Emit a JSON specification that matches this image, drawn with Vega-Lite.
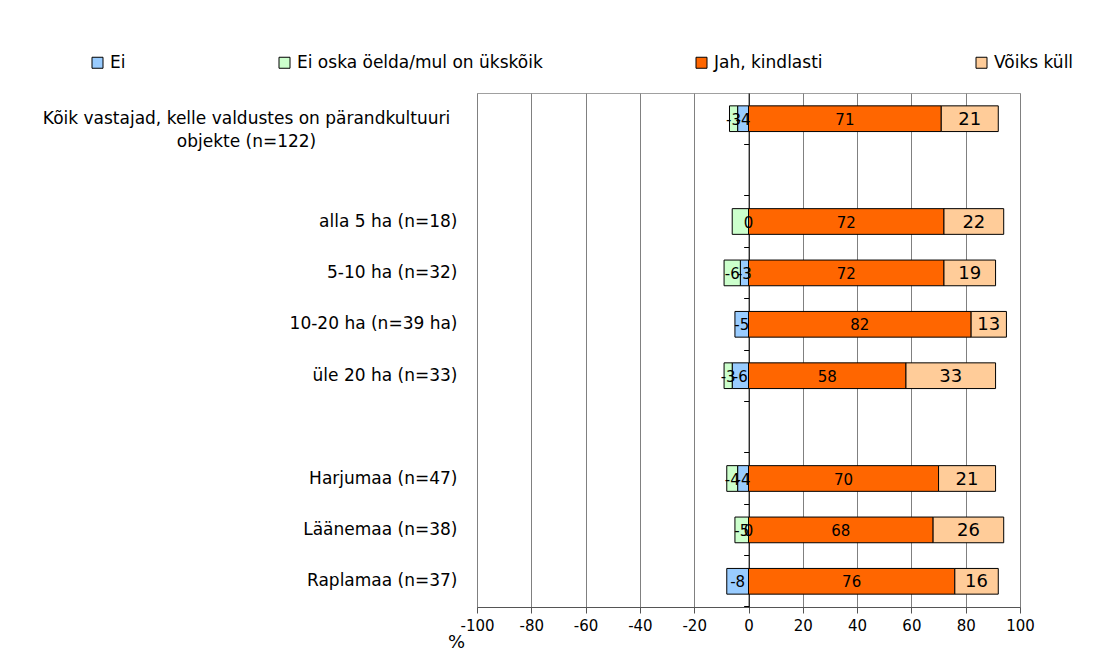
{
  "$schema": "https://vega.github.io/schema/vega-lite/v6.json",
  "width": 543,
  "height": 514,
  "autosize": "none",
  "padding": {"left": 477, "top": 93, "right": 81, "bottom": 50},
  "background": "white",
  "config": {
    "font": "DejaVu Sans",
    "view": {"stroke": "#A0A0A0", "strokeWidth": 1}
  },
  "data": {
    "values": [
      {"group": "Kõik vastajad, kelle valdustes on pärandkultuuri objekte (n=122)", "cat": "Ei", "value": -4, "label": "-4"},
      {"group": "Kõik vastajad, kelle valdustes on pärandkultuuri objekte (n=122)", "cat": "Ei oska öelda/mul on ükskõik", "value": -3, "label": "-3"},
      {"group": "Kõik vastajad, kelle valdustes on pärandkultuuri objekte (n=122)", "cat": "Jah, kindlasti", "value": 71, "label": "71"},
      {"group": "Kõik vastajad, kelle valdustes on pärandkultuuri objekte (n=122)", "cat": "Võiks küll", "value": 21, "label": "21"},
      {"group": "alla 5 ha (n=18)", "cat": "Ei", "value": 0, "label": "0"},
      {"group": "alla 5 ha (n=18)", "cat": "Ei oska öelda/mul on ükskõik", "value": -6, "label": ""},
      {"group": "alla 5 ha (n=18)", "cat": "Jah, kindlasti", "value": 72, "label": "72"},
      {"group": "alla 5 ha (n=18)", "cat": "Võiks küll", "value": 22, "label": "22"},
      {"group": "5-10 ha (n=32)", "cat": "Ei", "value": -3, "label": "-3"},
      {"group": "5-10 ha (n=32)", "cat": "Ei oska öelda/mul on ükskõik", "value": -6, "label": "-6"},
      {"group": "5-10 ha (n=32)", "cat": "Jah, kindlasti", "value": 72, "label": "72"},
      {"group": "5-10 ha (n=32)", "cat": "Võiks küll", "value": 19, "label": "19"},
      {"group": "10-20 ha (n=39 ha)", "cat": "Ei", "value": -5, "label": "-5"},
      {"group": "10-20 ha (n=39 ha)", "cat": "Ei oska öelda/mul on ükskõik", "value": 0, "label": ""},
      {"group": "10-20 ha (n=39 ha)", "cat": "Jah, kindlasti", "value": 82, "label": "82"},
      {"group": "10-20 ha (n=39 ha)", "cat": "Võiks küll", "value": 13, "label": "13"},
      {"group": "üle 20 ha (n=33)", "cat": "Ei", "value": -6, "label": "-6"},
      {"group": "üle 20 ha (n=33)", "cat": "Ei oska öelda/mul on ükskõik", "value": -3, "label": "-3"},
      {"group": "üle 20 ha (n=33)", "cat": "Jah, kindlasti", "value": 58, "label": "58"},
      {"group": "üle 20 ha (n=33)", "cat": "Võiks küll", "value": 33, "label": "33"},
      {"group": "Harjumaa (n=47)", "cat": "Ei", "value": -4, "label": "-4"},
      {"group": "Harjumaa (n=47)", "cat": "Ei oska öelda/mul on ükskõik", "value": -4, "label": "-4"},
      {"group": "Harjumaa (n=47)", "cat": "Jah, kindlasti", "value": 70, "label": "70"},
      {"group": "Harjumaa (n=47)", "cat": "Võiks küll", "value": 21, "label": "21"},
      {"group": "Läänemaa (n=38)", "cat": "Ei", "value": 0, "label": "0"},
      {"group": "Läänemaa (n=38)", "cat": "Ei oska öelda/mul on ükskõik", "value": -5, "label": "-5"},
      {"group": "Läänemaa (n=38)", "cat": "Jah, kindlasti", "value": 68, "label": "68"},
      {"group": "Läänemaa (n=38)", "cat": "Võiks küll", "value": 26, "label": "26"},
      {"group": "Raplamaa (n=37)", "cat": "Ei", "value": -8, "label": "-8"},
      {"group": "Raplamaa (n=37)", "cat": "Ei oska öelda/mul on ükskõik", "value": 0, "label": ""},
      {"group": "Raplamaa (n=37)", "cat": "Jah, kindlasti", "value": 76, "label": "76"},
      {"group": "Raplamaa (n=37)", "cat": "Võiks küll", "value": 16, "label": "16"}
    ]
  },
  "transform": [
    {"stack": "value", "groupby": ["group"], "sort": [{"field": "cat", "order": "ascending"}], "as": ["v0", "v1"], "offset": "zero"},
    {"calculate": "(datum.v0 + datum.v1) / 2", "as": "mid"}
  ],
  "resolve": {"axis": {"y": "independent"}},
  "layer": [
    {
      "mark": {"type": "bar", "stroke": "black", "strokeWidth": 1},
      "encoding": {
        "y": {
          "field": "group",
          "type": "nominal",
          "scale": {
            "domain": ["Kõik vastajad, kelle valdustes on pärandkultuuri objekte (n=122)", " ", "alla 5 ha (n=18)", "5-10 ha (n=32)", "10-20 ha (n=39 ha)", "üle 20 ha (n=33)", "  ", "Harjumaa (n=47)", "Läänemaa (n=38)", "Raplamaa (n=37)"],
            "paddingInner": 0.5,
            "paddingOuter": 0.25
          },
          "axis": {
            "orient": "left",
            "title": null,
            "domain": false,
            "ticks": false,
            "grid": false,
            "labelFontSize": 17,
            "labelColor": "black",
            "labelLimit": 0,
            "labelOverlap": false,
            "labelLineHeight": 23,
            "labelBaseline": "middle",
            "labelPadding": {"condition": {"test": "indexof(datum.value, 'Kõik') == 0", "value": 231}, "value": 20},
            "labelAlign": {"condition": {"test": "indexof(datum.value, 'Kõik') == 0", "value": "center"}, "value": "right"},
            "labelExpr": "indexof(datum.value, 'Kõik') == 0 ? ['Kõik vastajad, kelle valdustes on pärandkultuuri', 'objekte (n=122)'] : datum.value"
          }
        },
        "x": {
          "field": "v0",
          "type": "quantitative",
          "scale": {"domain": [-100, 100], "nice": false},
          "axis": {
            "values": [-100, -80, -60, -40, -20, 0, 20, 40, 60, 80, 100],
            "labelExpr": "'' + datum.value",
            "grid": true,
            "gridColor": "#808080",
            "gridWidth": 1,
            "domainColor": "#555555",
            "tickColor": "#555555",
            "tickSize": 6,
            "labelFontSize": 15,
            "labelColor": "black",
            "labelPadding": 5,
            "labelFlush": false,
            "labelOverlap": false,
            "title": "%",
            "titleFontSize": 18,
            "titleFontWeight": "normal",
            "titleColor": "black",
            "titleX": -21,
            "titleY": 40,
            "titleAlign": "center",
            "titleBaseline": "alphabetic",
            "titleAnchor": null
          }
        },
        "x2": {"field": "v1"},
        "color": {
          "field": "cat",
          "type": "nominal",
          "scale": {
            "domain": ["Ei", "Ei oska öelda/mul on ükskõik", "Jah, kindlasti", "Võiks küll"],
            "range": ["#99CCFF", "#CCFFCC", "#FF6600", "#FFCC99"]
          },
          "legend": {
            "orient": "none",
            "direction": "horizontal",
            "legendX": -388,
            "legendY": -39,
            "title": null,
            "padding": 0,
            "symbolType": "square",
            "symbolSize": 121,
            "symbolStrokeColor": "black",
            "symbolStrokeWidth": 1,
            "symbolOpacity": 1,
            "labelFontSize": 17,
            "labelColor": "black",
            "labelOffset": 4,
            "labelLimit": 0,
            "columnPadding": 150
          }
        }
      }
    },
    {
      "mark": {"type": "text", "baseline": "middle", "align": "center", "color": "black", "dy": 1},
      "encoding": {
        "y": {
          "field": "group",
          "type": "nominal",
          "axis": {
            "orient": "left",
            "offset": -271.65,
            "title": null,
            "labels": false,
            "grid": false,
            "domain": true,
            "domainColor": "black",
            "domainWidth": 1,
            "ticks": true,
            "tickColor": "black",
            "tickSize": 5,
            "bandPosition": 1.5
          }
        },
        "x": {"field": "mid", "type": "quantitative"},
        "text": {"field": "label"},
        "size": {"condition": {"test": "datum.cat == 'Võiks küll'", "value": 18}, "value": 15}
      }
    }
  ]
}
